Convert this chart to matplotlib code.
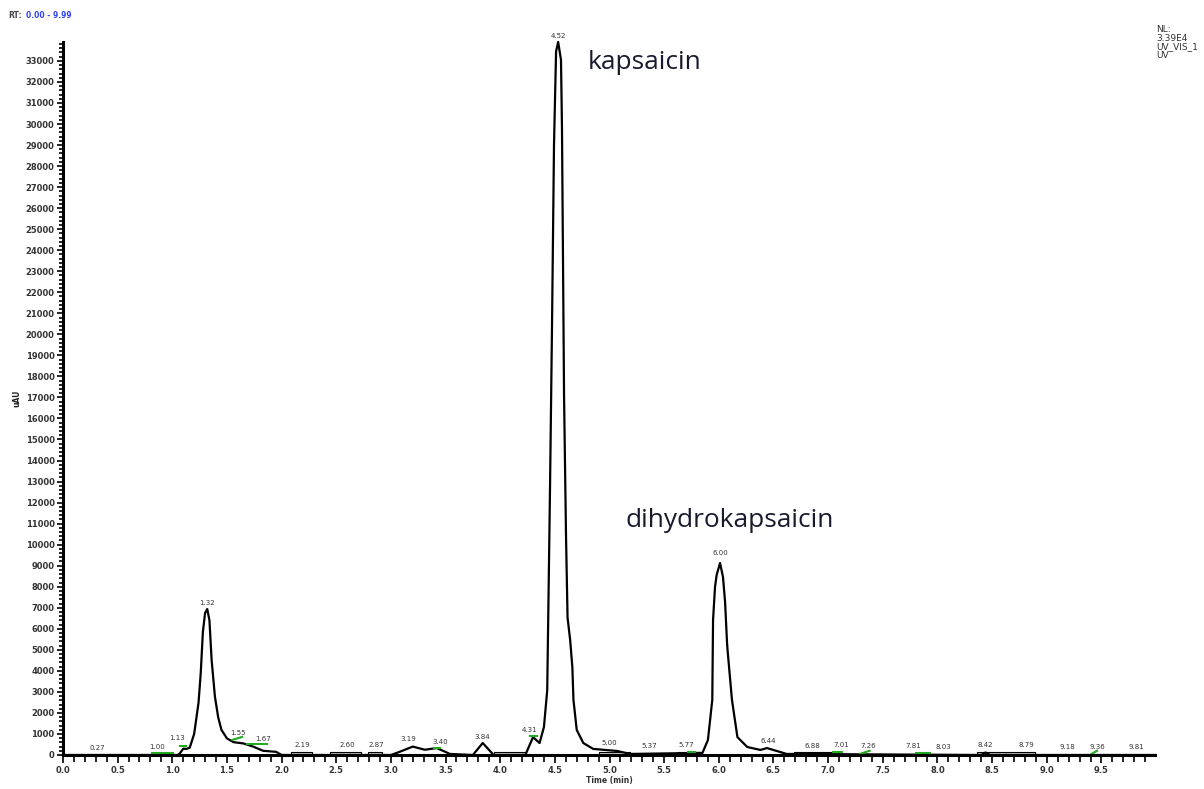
import numpy as np
import matplotlib.pyplot as plt
from matplotlib.ticker import MultipleLocator

# chromatogram trace (time in min, signal in uAU)
time = [0.00, 1.05, 1.07, 1.10, 1.13, 1.16, 1.20, 1.24, 1.26, 1.28, 1.30, 1.32,
        1.34, 1.36, 1.39, 1.42, 1.45, 1.50, 1.56, 1.65, 1.74, 1.83, 1.95, 2.00,
        3.00, 3.08, 3.20, 3.31, 3.42, 3.54, 3.75, 3.84, 3.94, 4.23, 4.30, 4.36,
        4.40, 4.43, 4.44, 4.456, 4.474, 4.492, 4.511, 4.53, 4.556, 4.565, 4.574,
        4.584, 4.602, 4.616, 4.64, 4.66, 4.67, 4.70, 4.76, 4.85, 5.07, 5.19,
        5.85, 5.90, 5.94, 5.947, 5.965, 5.98, 6.011, 6.038, 6.057, 6.075, 6.08,
        6.12, 6.17, 6.26, 6.38, 6.44, 6.53, 6.62, 8.40, 8.44, 8.48, 9.99]
signal = [0, 0, 80, 300, 290, 350, 1000, 2480, 3870, 5850, 6750, 6940,
          6400, 4510, 2780, 1790, 1190, 790, 610, 550, 400, 200, 150, 0,
          0, 150, 400, 250, 330, 50, 0, 570, 0, 0, 850, 570,
          1330, 3080, 6800, 12860, 20490, 29000, 33450, 33900, 33050, 29810, 23730,
          17070, 10390, 6530, 5460, 4170, 2620, 1190, 570, 290, 190, 50,
          100, 710, 2620, 6420, 7990, 8560, 9130, 8460, 7280, 5330, 4970,
          2620, 850, 380, 240, 330, 190, 50, 0, 120, 0, 0]

# peak labels
peak_names = ["0.27", "1.00", "1.13", "1.32", "1.55", "1.67", "2.19", "2.60", "2.87",
              "3.19", "3.40", "3.84", "4.31", "4.52", "5.00", "5.37", "5.77", "6.00",
              "6.44", "6.88", "7.01", "7.26", "7.81", "8.03", "8.42", "8.79", "9.18",
              "9.36", "9.81"]
peak_t = [0.31, 0.86, 1.04, 1.32, 1.60, 1.83, 2.19, 2.60, 2.87,
          3.16, 3.45, 3.84, 4.27, 4.53, 5.00, 5.36, 5.70, 6.01,
          6.45, 6.86, 7.12, 7.37, 7.78, 8.05, 8.44, 8.81, 9.19,
          9.46, 9.82]
peak_y = [340, 380, 810, 7220, 1040, 760, 480, 480, 480,
          760, 610, 850, 1190, 34200, 570, 430, 480, 9610,
          660, 430, 480, 430, 430, 380, 480, 480, 380,
          380, 380]

# integrated areas drawn as grey bars on the baseline
area_start = [2.09, 2.44, 2.79, 3.94, 4.90, 5.63, 6.69, 8.36]
area_end = [2.28, 2.73, 2.92, 4.23, 5.19, 5.83, 7.10, 8.89]

# green baseline marks (t0, y0, t1, y1)
base_t0 = [0.81, 1.07, 1.55, 1.68, 3.39, 4.27, 5.72, 7.04, 7.29, 7.80, 9.41]
base_y0 = [100, 430, 720, 530, 340, 900, 150, 150, 50, 100, 50]
base_t1 = [1.01, 1.13, 1.64, 1.87, 3.45, 4.34, 5.78, 7.13, 7.38, 7.93, 9.46]
base_y1 = [100, 430, 860, 530, 340, 900, 150, 150, 200, 100, 200]

fig = plt.figure(figsize=(12.04, 7.89), dpi=100)
ax = fig.add_axes([0.0523, 0.0431, 0.907, 0.9037])

for a, b in zip(area_start, area_end):
    ax.fill_between([a, b], 0, 130, facecolor="#c8c8c8", edgecolor="black", lw=0.8)

ax.plot(time, signal, color="black", lw=1.6, clip_on=False)

for t0, y0, t1, y1 in zip(base_t0, base_y0, base_t1, base_y1):
    ax.plot([t0, t1], [y0, y1], color="#22aa22", lw=1.5)

for name, t, y in zip(peak_names, peak_t, peak_y):
    ax.text(t, y, name, fontsize=5, ha="center", va="center", color="#333333",
            clip_on=False)

ax.text(4.80, 32620, "kapsaicin", fontsize=18.9, family="Open Sans",
        color="#1a1a2e", va="baseline")
ax.text(5.15, 10840, "dihydrokapsaicin", fontsize=18.9, family="Open Sans",
        color="#1a1a2e", va="baseline")

ax.set_xlim(0, 9.99)
ax.set_ylim(0, 33900)
ax.xaxis.set_major_locator(MultipleLocator(0.5))
ax.xaxis.set_minor_locator(MultipleLocator(0.1))
ax.yaxis.set_major_locator(MultipleLocator(1000))
ax.yaxis.set_minor_locator(MultipleLocator(200))
ax.xaxis.set_major_formatter(lambda v, p: f"{v:.1f}")
ax.yaxis.set_major_formatter(lambda v, p: f"{v:.0f}")

ax.tick_params(axis="both", which="major", direction="out", length=6, width=1.2,
               labelsize=6, labelcolor="#333333", pad=2)
ax.tick_params(axis="both", which="minor", direction="out", length=5, width=1.2)
ax.tick_params(axis="y", which="major", length=4)
ax.tick_params(axis="y", which="minor", length=3)
for lbl in ax.get_xticklabels() + ax.get_yticklabels():
    lbl.set_fontweight("bold")

for s in ["top", "right"]:
    ax.spines[s].set_visible(False)
for s in ["left", "bottom"]:
    ax.spines[s].set_linewidth(2.2)

ax.set_xlabel("Time (min)", fontsize=5.5, fontweight="bold", labelpad=1, color="#333333")
ax.set_ylabel("uAU", fontsize=5.5, fontweight="bold", labelpad=3, color="#222222")

fig.text(0.007, 0.977, "RT:", fontsize=5.5, fontweight="bold", color="#444444")
fig.text(0.022, 0.977, "0.00 - 9.99", fontsize=5.5, fontweight="bold", color="#3344ee")
fig.text(0.9605, 0.968, "NL:\n3.39E4\nUV_VIS_1\nUV", fontsize=6.5, color="#333333",
         linespacing=0.95, va="top")

fig.savefig("out.png", dpi=100)
